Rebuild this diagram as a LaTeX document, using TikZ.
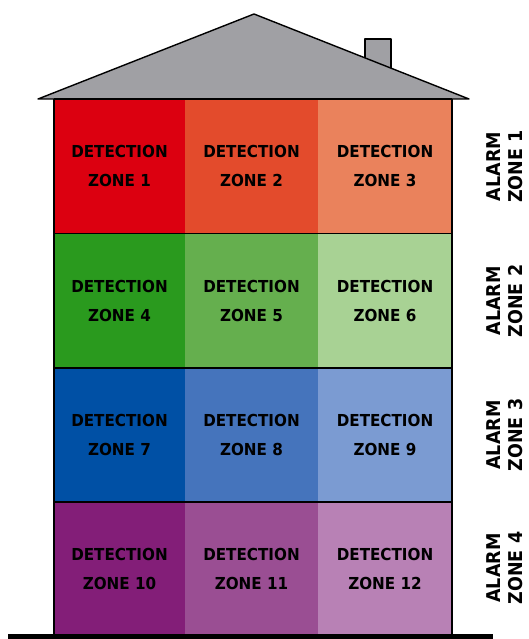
\documentclass[tikz,border=0pt]{standalone}
\usepackage{fontspec}
\newfontfamily\labelfont[FakeStretch=0.92]{DejaVu Sans Bold}
\definecolor{r1}{HTML}{DC0010}
\definecolor{r2}{HTML}{E34B2C}
\definecolor{r3}{HTML}{EA825C}
\definecolor{g1}{HTML}{2A9A1E}
\definecolor{g2}{HTML}{65AF4E}
\definecolor{g3}{HTML}{A8D294}
\definecolor{b1}{HTML}{0050A5}
\definecolor{b2}{HTML}{4574BC}
\definecolor{b3}{HTML}{7B9BD2}
\definecolor{p1}{HTML}{831E78}
\definecolor{p2}{HTML}{9A4E93}
\definecolor{p3}{HTML}{B881B5}
\definecolor{roofgray}{HTML}{A0A0A4}
\begin{document}
\begin{tikzpicture}[x=1pt,y=-1pt,
  cell/.style={minimum height=134pt,inner sep=0pt,outer sep=0pt,anchor=north west,align=center,
    font=\labelfont\fontsize{16.5}{29}\selectfont},
  alarm/.style={rotate=90,align=center,inner sep=0pt,font=\labelfont\fontsize{19}{22}\selectfont},
  outline/.style={draw=black,line width=1.4pt,line join=round}]
\useasboundingbox (0,0) rectangle (528,639);
% chimney and roof
\draw[outline,fill=roofgray] (365,72) -- (365,39) -- (391,39) -- (391,72);
\draw[outline,fill=roofgray] (38,99) -- (254,14) -- (469,99) -- cycle;
% cells
\foreach \r/\top/\ca/\cb/\cc in {0/99/r1/r2/r3, 1/233.5/g1/g2/g3, 2/368/b1/b2/b3, 3/502/p1/p2/p3}{
  \pgfmathtruncatemacro{\za}{3*\r+1}
  \pgfmathtruncatemacro{\zb}{3*\r+2}
  \pgfmathtruncatemacro{\zc}{3*\r+3}
  \node[cell,fill=\ca,minimum width=131pt] (c\za) at (54,\top) {DETECTION\\ZONE \za};
  \node[cell,fill=\cb,minimum width=133pt] (c\zb) at (185,\top) {DETECTION\\ZONE \zb};
  \node[cell,fill=\cc,minimum width=134pt] (c\zc) at (318,\top) {DETECTION\\ZONE \zc};
}
% building lines
\draw[outline] (c1.north west) -- (c3.north east);
\draw[outline] (c1.north west) -- (c10.south west);
\draw[outline] (c3.north east) -- (c12.south east);
\draw[outline] (c4.north west) -- (c6.north east);
\draw[outline] (c7.north west) -- (c9.north east);
\draw[outline] (c10.north west) -- (c12.north east);
% ground
\coordinate (gl) at (8,636.5);
\coordinate (gr) at (493,636.5);
\draw[line width=5pt] (gl) -- (gr);
% alarm labels
\node[alarm] (a1) at (505,166.5) {ALARM\\ZONE 1};
\node[alarm] (a2) at (505,301) {ALARM\\ZONE 2};
\node[alarm] (a3) at (505,435) {ALARM\\ZONE 3};
\node[alarm] (a4) at (505,568) {ALARM\\ZONE 4};
\end{tikzpicture}
\end{document}
